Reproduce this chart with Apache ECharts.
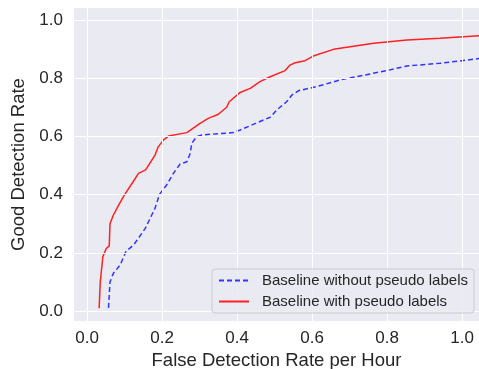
<!DOCTYPE html>
<html>
<head>
<meta charset="utf-8">
<script src="https://cdn.jsdelivr.net/npm/echarts@6/dist/echarts.min.js"></script>
<style>
  html, body { margin: 0; padding: 0; background: #fff; }
  #chart { width: 479px; height: 369px; }
</style>
</head>
<body>
<div id="chart"></div>
<script>
const tickValues = [0, 0.2, 0.4, 0.6, 0.8, 1.0];
const seriesNames = ["Baseline without pseudo labels", "Baseline with pseudo labels"];

// without pseudo labels (blue, dashed)
const blueX = [0.057, 0.061, 0.070, 0.088, 0.104, 0.124, 0.155, 0.181, 0.193, 0.212, 0.230, 0.248, 0.266, 0.275, 0.279, 0.292, 0.306, 0.390, 0.408, 0.488, 0.506, 0.532, 0.546, 0.564, 0.612, 0.675, 0.799, 0.853, 0.941, 1.05];
const blueY = [0.011, 0.100, 0.130, 0.158, 0.206, 0.227, 0.284, 0.353, 0.401, 0.433, 0.473, 0.505, 0.513, 0.542, 0.576, 0.599, 0.605, 0.613, 0.622, 0.666, 0.691, 0.719, 0.742, 0.757, 0.771, 0.794, 0.826, 0.842, 0.851, 0.868];

// with pseudo labels (red, solid)
const redX = [0.032, 0.035, 0.042, 0.051, 0.059, 0.061, 0.070, 0.084, 0.100, 0.117, 0.137, 0.156, 0.181, 0.190, 0.204, 0.217, 0.266, 0.301, 0.323, 0.350, 0.372, 0.379, 0.408, 0.435, 0.461, 0.488, 0.528, 0.541, 0.555, 0.581, 0.603, 0.657, 0.764, 0.853, 0.941, 1.05];
const redY = [0.010, 0.100, 0.187, 0.215, 0.224, 0.300, 0.330, 0.364, 0.400, 0.433, 0.473, 0.485, 0.536, 0.565, 0.588, 0.601, 0.613, 0.645, 0.662, 0.676, 0.700, 0.719, 0.751, 0.765, 0.788, 0.805, 0.826, 0.845, 0.853, 0.860, 0.876, 0.899, 0.920, 0.931, 0.937, 0.946];

const pairs = (xs, ys) => xs.map((x, i) => [x, ys[i]]);
const txt = "#262626";
const font = "'Liberation Sans', Arial, sans-serif";

const gridLines = (axis) => ({
    silent: true,
    symbol: "none",
    label: {show: false},
    lineStyle: {color: "#ffffff", width: 1, type: "solid"},
    data: tickValues.map(v => ({[axis]: v}))
});

const option = {
    animation: false,
    textStyle: {fontFamily: font},
    grid: {
        left: 74, right: 0, top: 8, bottom: 48,
        outerBoundsMode: "none", containLabel: false,
        show: true, backgroundColor: "#eaeaf2", borderWidth: 0
    },
    xAxis: {
        type: "value",
        min: -0.035,
        max: 1.045,
        name: "False Detection Rate per Hour",
        nameLocation: "middle",
        nameGap: 30,
        nameTextStyle: {color: txt, fontSize: 18.5, fontFamily: font},
        axisLine: {show: false},
        axisTick: {show: false, customValues: tickValues},
        splitLine: {show: false},
        axisLabel: {
            customValues: tickValues,
            color: txt, fontSize: 17, margin: 9, fontFamily: font,
            formatter: v => v.toFixed(1)
        }
    },
    yAxis: {
        type: "value",
        min: -0.034,
        max: 1.041,
        name: "Good Detection Rate",
        nameLocation: "middle",
        nameGap: 36,
        nameTextStyle: {color: txt, fontSize: 18.5, fontFamily: font},
        axisLine: {show: false},
        axisTick: {show: false, customValues: tickValues},
        splitLine: {show: false},
        axisLabel: {
            customValues: tickValues,
            color: txt, fontSize: 17, margin: 11, fontFamily: font,
            formatter: v => v.toFixed(1)
        }
    },
    legend: {
        left: 212,
        top: 269,
        orient: "vertical",
        itemWidth: 30,
        itemHeight: 10,
        itemGap: 6,
        padding: [4, 6, 4, 6],
        backgroundColor: "rgba(234,234,242,0.85)",
        borderColor: "#cccccc",
        borderWidth: 1,
        borderRadius: 3,
        itemStyle: {color: "transparent", borderWidth: 0},
        textStyle: {color: txt, fontSize: 15, fontFamily: font, padding: [0, 0, 0, 8]},
        data: seriesNames,
        z: 10
    },
    series: [
        {
            name: seriesNames[0],
            type: "line",
            data: pairs(blueX, blueY),
            showSymbol: false,
            symbol: "none",
            color: "#3333ff",
            lineStyle: {color: "#3333ff", width: 1.5, type: [5, 3]},
            markLine: gridLines("xAxis"),
            z: 3
        },
        {
            name: seriesNames[1],
            type: "line",
            data: pairs(redX, redY),
            showSymbol: false,
            symbol: "none",
            color: "#ff2020",
            lineStyle: {color: "#ff2020", width: 1.5},
            markLine: gridLines("yAxis"),
            z: 3
        }
    ]
};

const chart = echarts.init(document.getElementById("chart"));
chart.setOption(option);
</script>
</body>
</html>
